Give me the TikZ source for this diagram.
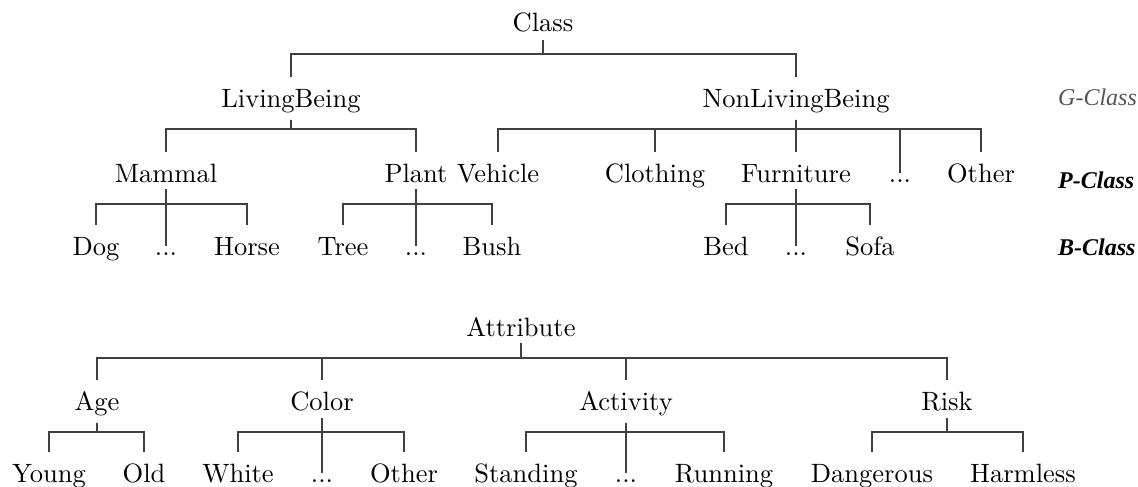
\documentclass[tikz,border=0pt]{standalone}
\usepackage{fontspec}
\newfontfamily\lblfont{LiberationSerif}[Extension=.ttf, UprightFont=*-Regular, BoldFont=*-Bold, ItalicFont=*-Italic, BoldItalicFont=*-BoldItalic]
\newfontfamily\lmten{lmroman10-regular.otf}
\definecolor{linecol}{HTML}{404040}
\definecolor{gcol}{HTML}{555555}
\begin{document}
\begin{tikzpicture}[x=1pt,y=-1pt,
  every node/.style={font=\lmten\fontsize{26.5}{30}\selectfont, inner xsep=0pt, inner ysep=7pt, anchor=base},
  word/.style={text height=23pt},
  dots/.style={text height=2pt},
  lbl/.style={font=\lblfont\fontsize{24}{28}\selectfont\itshape, anchor=base west, inner sep=0pt},
  blbl/.style={lbl, font=\lblfont\fontsize{24}{28}\selectfont\bfseries\itshape},
  conn/.style={draw=linecol, line width=1.1pt}]
\useasboundingbox (0,0) rectangle (1138,487);
% top tree
\node[word] (cls) at (543,32) {Class};
\node[word] (lb) at (291,107) {LivingBeing};
\node[word] (nlb) at (796,107) {NonLivingBeing};
\node[word] (mam) at (166,182) {Mammal};
\node[word] (pla) at (416,182) {Plant};
\node[word] (veh) at (498,182) {Vehicle};
\node[word] (clo) at (655,182) {Clothing};
\node[word] (fur) at (796,182) {Furniture};
\node[dots] (pd) at (900,182) {...};
\node[word] (oth) at (981,182) {Other};
\node[word] (dog) at (96,255) {Dog};
\node[dots] (md) at (166,255) {...};
\node[word] (hor) at (247,255) {Horse};
\node[word] (tre) at (343,255) {Tree};
\node[dots] (pld) at (416,255) {...};
\node[word] (bus) at (492,255) {Bush};
\node[word] (bed) at (726,255) {Bed};
\node[dots] (fd) at (796,255) {...};
\node[word] (sof) at (870,255) {Sofa};
\node[lbl, text=gcol] (gc) at (1058,106) {G-Class};
\node[blbl] (pc) at (1058,188) {P-Class};
\node[blbl] (bc) at (1058,255) {B-Class};
\foreach \c in {lb,nlb} \draw[conn] (cls.south) -- ([yshift=-22pt]cls.base) -| (\c.north);
\foreach \c in {mam,pla} \draw[conn] (lb.south) -- ([yshift=-22pt]lb.base) -| (\c.north);
\foreach \c in {veh,clo,fur,pd,oth} \draw[conn] (nlb.south) -- ([yshift=-22pt]nlb.base) -| (\c.north);
\foreach \c in {dog,md,hor} \draw[conn] (mam.south) -- ([yshift=-22pt]mam.base) -| (\c.north);
\foreach \c in {tre,pld,bus} \draw[conn] (pla.south) -- ([yshift=-22pt]pla.base) -| (\c.north);
\foreach \c in {bed,fd,sof} \draw[conn] (fur.south) -- ([yshift=-22pt]fur.base) -| (\c.north);
% bottom tree
\node[word] (att) at (521,336) {Attribute};
\node[word] (age) at (97,410) {Age};
\node[word] (col) at (322,410) {Color};
\node[word] (act) at (626,410) {Activity};
\node[word] (ris) at (947,410) {Risk};
\node[word] (you) at (49,482) {Young};
\node[word] (old) at (144,482) {Old};
\node[word] (whi) at (238,482) {White};
\node[dots] (cd) at (322,482) {...};
\node[word] (cot) at (404,482) {Other};
\node[word] (sta) at (526,482) {Standing};
\node[dots] (ad) at (626,482) {...};
\node[word] (run) at (724,482) {Running};
\node[word] (dan) at (872,482) {Dangerous};
\node[word] (har) at (1023,482) {Harmless};
\foreach \c in {age,col,act,ris} \draw[conn] (att.south) -- ([yshift=-22pt]att.base) -| (\c.north);
\foreach \c in {you,old} \draw[conn] (age.south) -- ([yshift=-22pt]age.base) -| (\c.north);
\foreach \c in {whi,cd,cot} \draw[conn] (col.south) -- ([yshift=-22pt]col.base) -| (\c.north);
\foreach \c in {sta,ad,run} \draw[conn] (act.south) -- ([yshift=-22pt]act.base) -| (\c.north);
\foreach \c in {dan,har} \draw[conn] (ris.south) -- ([yshift=-22pt]ris.base) -| (\c.north);
\end{tikzpicture}
\end{document}
